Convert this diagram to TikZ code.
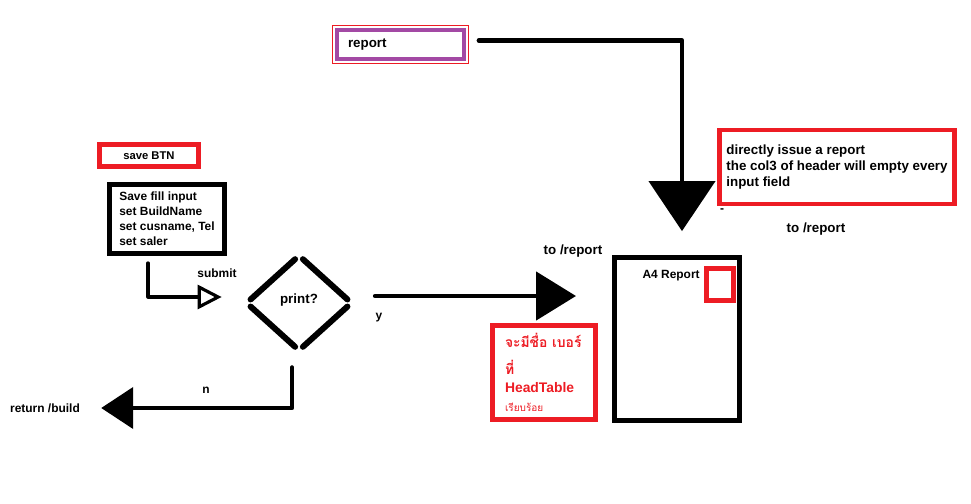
\documentclass[tikz,border=0pt]{standalone}
\usepackage{fontspec}
\setmainfont{Liberation Sans}
\newfontfamily\thaifont[Script=Thai]{Loma}
\usetikzlibrary{arrows.meta,calc,shapes.geometric}
\definecolor{paintred}{HTML}{ED1C24}
\definecolor{paintpurple}{HTML}{A349A4}
\begin{document}
\begin{tikzpicture}[x=0.02cm,y=-0.02cm,
		txt/.style={font=\fontsize{6.8}{8.6}\selectfont\bfseries, inner sep=0pt},
		bigtxt/.style={txt, font=\fontsize{7.6}{8.9}\selectfont\bfseries},
		box/.style={draw, line width=2.8pt, inner sep=0pt},
		redbox/.style={box, draw=paintred},
		paintline/.style={line cap=round, line join=round}]
		\useasboundingbox (0,0) rectangle (971,504);
		% Kaesten
		\node[redbox, txt, font=\fontsize{6.4}{8}\selectfont\bfseries, minimum width=1.98cm, minimum height=0.44cm]
			(savebtn) at (149,155.5) {save BTN};
		\node[box, txt, align=left, minimum width=2.3cm, minimum height=1.38cm] (savefill) at (167,219)
			{Save fill input\\set BuildName\\set cusname, Tel\\set saler};
		\node[diamond, bigtxt, minimum width=2.08cm, minimum height=1.88cm] (print) at (299,303) {\raisebox{5pt}{print?}};
		\node[bigtxt, draw=paintpurple, line width=2.2pt, inner xsep=0.22cm, text width=2.1cm,
			minimum height=0.58cm, align=left] (report) at (400.5,44.5) {report};
		\draw[paintred, line width=0.6pt] ($(report.north west)+(-2.4,-2.4)$) rectangle ($(report.south east)+(2.4,2.4)$);
		\node[redbox, bigtxt, align=left, minimum width=4.7cm, minimum height=1.48cm] (note) at (837,167)
			{directly issue a report\\the col3 of header will empty every\\input field};
		\node[box, minimum width=2.5cm, minimum height=3.26cm] (a4) at (677,339) {};
		\node[redbox, minimum width=0.54cm, minimum height=0.64cm] (col3) at (720,284.5) {};
		\node[txt, anchor=east] (a4title) at (700,276) {A4 Report};
		\node[redbox, txt, text=paintred, font=\fontsize{7.9}{10.5}\selectfont\bfseries, inner xsep=0.25cm,
			text width=1.56cm, minimum height=1.88cm, align=left] (thai) at (544,372.5)
			{{\thaifont จะมีชื่อ เบอร์}\\[4.6pt]{\thaifont ที่}\\HeadTable\\{\thaifont\mdseries\fontsize{5.7}{10.5}\selectfont เรียบร้อย}};
		% Beschriftungen
		\node[txt] (submit) at (217,273) {submit};
		\node[bigtxt] (toreport) at (573,251) {to /report};
		\node[bigtxt] (toreportb) at (816,229) {to /report};
		\node[txt] (yes) at (379,318) {y};
		\node[txt] (no) at (206,390) {n};
		\node[txt] (ret) at (45,408) {return /build};
		\node[txt] (dash) at (722,211) {-};
		% Raute
		\foreach \a/\b in {west/north, north/east, east/south, south/west}
			\draw[paintline, line width=3.4pt, shorten <=3pt, shorten >=3pt] (print.\a) -- (print.\b);
		% Pfeile
		\coordinate (ytip) at (576,296);
		\draw[paintline, line width=1.8pt, -{Triangle[open, length=0.48cm, width=0.48cm]}]
			($(savefill.south)+(-19,7)$) |- ($(print.west)+(-25,-6)$);
		\draw[paintline, line width=2.6pt, -{Triangle[length=1cm, width=1.32cm]}]
			($(report.east)+(13,-4)$) -| ($(a4.north)+(5,-24)$);
		\draw[paintline, line width=2.8pt, -{Triangle[length=0.8cm, width=0.96cm]}]
			($(print.east)+(24,-7)$) -- (ytip);
		\draw[paintline, line width=2.4pt, -{Triangle[length=0.64cm, width=0.82cm]}]
			($(print.south)+(-7,17)$) |- ($(ret.east)+(21,0)$);
	\end{tikzpicture}
\end{document}
